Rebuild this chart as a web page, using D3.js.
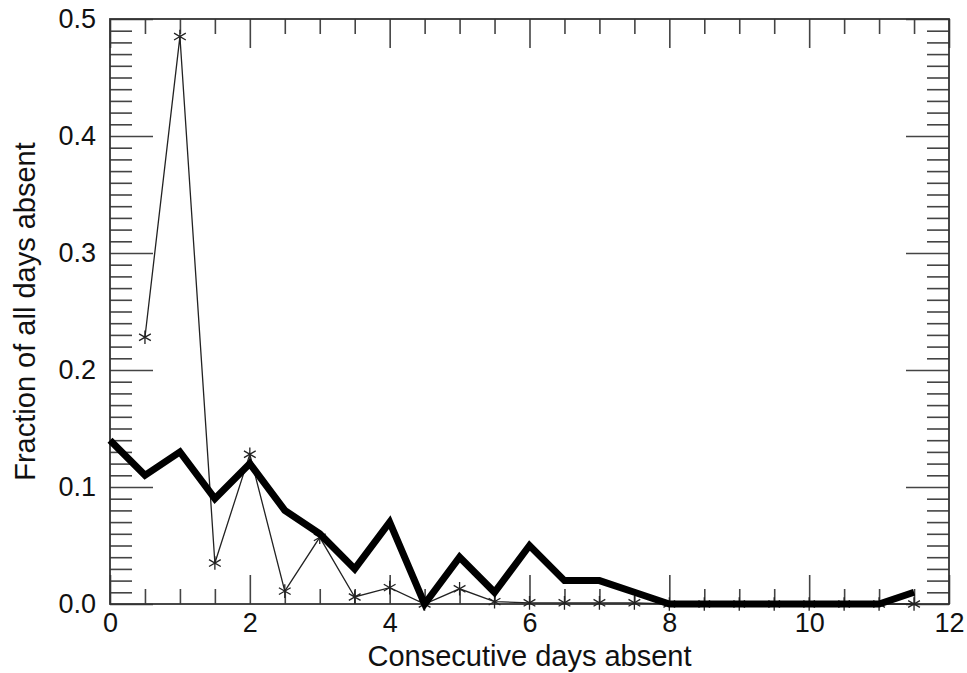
<!DOCTYPE html>
<html lang="en">
<head>
<meta charset="UTF-8">
<title>Consecutive days absent</title>
<script src="https://d3js.org/d3.v7.min.js"></script>
<style>
    body { margin: 0; background: #fff; }
    text { font-family: "Liberation Sans", Arial, Helvetica, sans-serif; fill: #111; }
</style>
</head>
<body>
<div id="chart"></div>
<script>
    // Data
    var days = [0, 0.5, 1, 1.5, 2, 2.5, 3, 3.5, 4, 4.5, 5, 5.5, 6, 6.5, 7, 7.5, 8, 8.5, 9, 9.5, 10, 10.5, 11, 11.5];
    var thickValues = [0.14, 0.11, 0.13, 0.09, 0.12, 0.08, 0.06, 0.03, 0.07, 0.00, 0.04, 0.01, 0.05, 0.02, 0.02, 0.01, 0, 0, 0, 0, 0, 0, 0, 0.01];
    // star series starts at 0.5
    var starDays = days.slice(1);
    var starValues = [0.228, 0.485, 0.035, 0.128, 0.011, 0.057, 0.006, 0.014, 0.0, 0.013, 0.002, 0.001, 0.001, 0.001, 0.001, 0, 0, 0, 0, 0, 0, 0, 0];

    var xMajor = [0, 2, 4, 6, 8, 10, 12];
    var yMajor = [0, 0.1, 0.2, 0.3, 0.4, 0.5];

    var width = 967, height = 673;
    var margin = { top: 19, right: 18, bottom: 69, left: 110 };
    var w = width - margin.left - margin.right;
    var h = height - margin.top - margin.bottom;

    var svg = d3.select("#chart").append("svg")
        .attr("width", width)
        .attr("height", height);

    var g = svg.append("g")
        .attr("transform", "translate(" + margin.left + "," + margin.top + ")");

    var x = d3.scaleLinear().domain([0, 12]).range([0, w]);
    var y = d3.scaleLinear().domain([0, 0.5]).range([h, 0]);

    var xMinor = d3.range(0, 12.01, 0.5).filter(function (v) { return v % 2 !== 0; });
    var yMinor = d3.range(0, 0.5001, 0.01).map(function (v) { return Math.round(v * 100) / 100; })
        .filter(function (v) { return Math.round(v * 100) % 10 !== 0; });

    var tickColor = "#444";
    var xLong = 29, xShort = 15, yLong = 43, yShort = 22;

    function styleAxis(sel) {
        sel.select(".domain").remove();
        sel.selectAll(".tick line").attr("stroke", tickColor).attr("stroke-width", 1.6);
        sel.selectAll("text").style("font-size", "27px").attr("fill", "#111");
    }

    // bottom axis
    g.append("g").attr("transform", "translate(0," + h + ")")
        .call(d3.axisBottom(x).tickValues(xMajor).tickSize(-xLong).tickPadding(9).tickFormat(d3.format("d")))
        .call(styleAxis);
    g.append("g").attr("transform", "translate(0," + h + ")")
        .call(d3.axisBottom(x).tickValues(xMinor).tickSize(-xShort).tickFormat(""))
        .call(styleAxis);
    // top axis
    g.append("g")
        .call(d3.axisTop(x).tickValues(xMajor).tickSize(-xLong).tickFormat(""))
        .call(styleAxis);
    g.append("g")
        .call(d3.axisTop(x).tickValues(xMinor).tickSize(-xShort).tickFormat(""))
        .call(styleAxis);
    // left axis
    g.append("g")
        .call(d3.axisLeft(y).tickValues(yMajor).tickSize(-yLong).tickPadding(14).tickFormat(d3.format(".1f")))
        .call(styleAxis);
    g.append("g")
        .call(d3.axisLeft(y).tickValues(yMinor).tickSize(-yShort).tickFormat(""))
        .call(styleAxis);
    // right axis
    g.append("g").attr("transform", "translate(" + w + ",0)")
        .call(d3.axisRight(y).tickValues(yMajor).tickSize(-yLong).tickFormat(""))
        .call(styleAxis);
    g.append("g").attr("transform", "translate(" + w + ",0)")
        .call(d3.axisRight(y).tickValues(yMinor).tickSize(-yShort).tickFormat(""))
        .call(styleAxis);

    // frame
    g.append("rect")
        .attr("x", 0).attr("y", 0)
        .attr("width", w).attr("height", h)
        .attr("fill", "none")
        .attr("stroke", "#333")
        .attr("stroke-width", 1.8);

    // thin line with stars
    var starData = starDays.map(function (d, i) { return [d, starValues[i]]; });
    var line = d3.line()
        .x(function (d) { return x(d[0]); })
        .y(function (d) { return y(d[1]); });

    g.append("path")
        .datum(starData)
        .attr("d", line)
        .attr("fill", "none")
        .attr("stroke", "#222")
        .attr("stroke-width", 1.3);

    g.append("g")
        .selectAll("path")
        .data(starData)
        .join("path")
        .attr("transform", function (d) { return "translate(" + x(d[0]) + "," + y(d[1]) + ")"; })
        .attr("d", d3.symbol().type(d3.symbolAsterisk).size(130))
        .attr("fill", "none")
        .attr("stroke", "#222")
        .attr("stroke-width", 1.3);

    // thick line
    var thickData = days.map(function (d, i) { return [d, thickValues[i]]; });
    g.append("path")
        .datum(thickData)
        .attr("d", line)
        .attr("fill", "none")
        .attr("stroke", "#000")
        .attr("stroke-width", 7)
        .attr("stroke-linejoin", "miter");

    // axis titles
    svg.append("text")
        .attr("x", margin.left + w / 2)
        .attr("y", 666)
        .attr("text-anchor", "middle")
        .style("font-size", "29px")
        .text("Consecutive days absent");

    svg.append("text")
        .attr("transform", "translate(35," + (margin.top + h / 2) + ") rotate(-90)")
        .attr("text-anchor", "middle")
        .style("font-size", "29px")
        .text("Fraction of all days absent");
</script>
</body>
</html>
